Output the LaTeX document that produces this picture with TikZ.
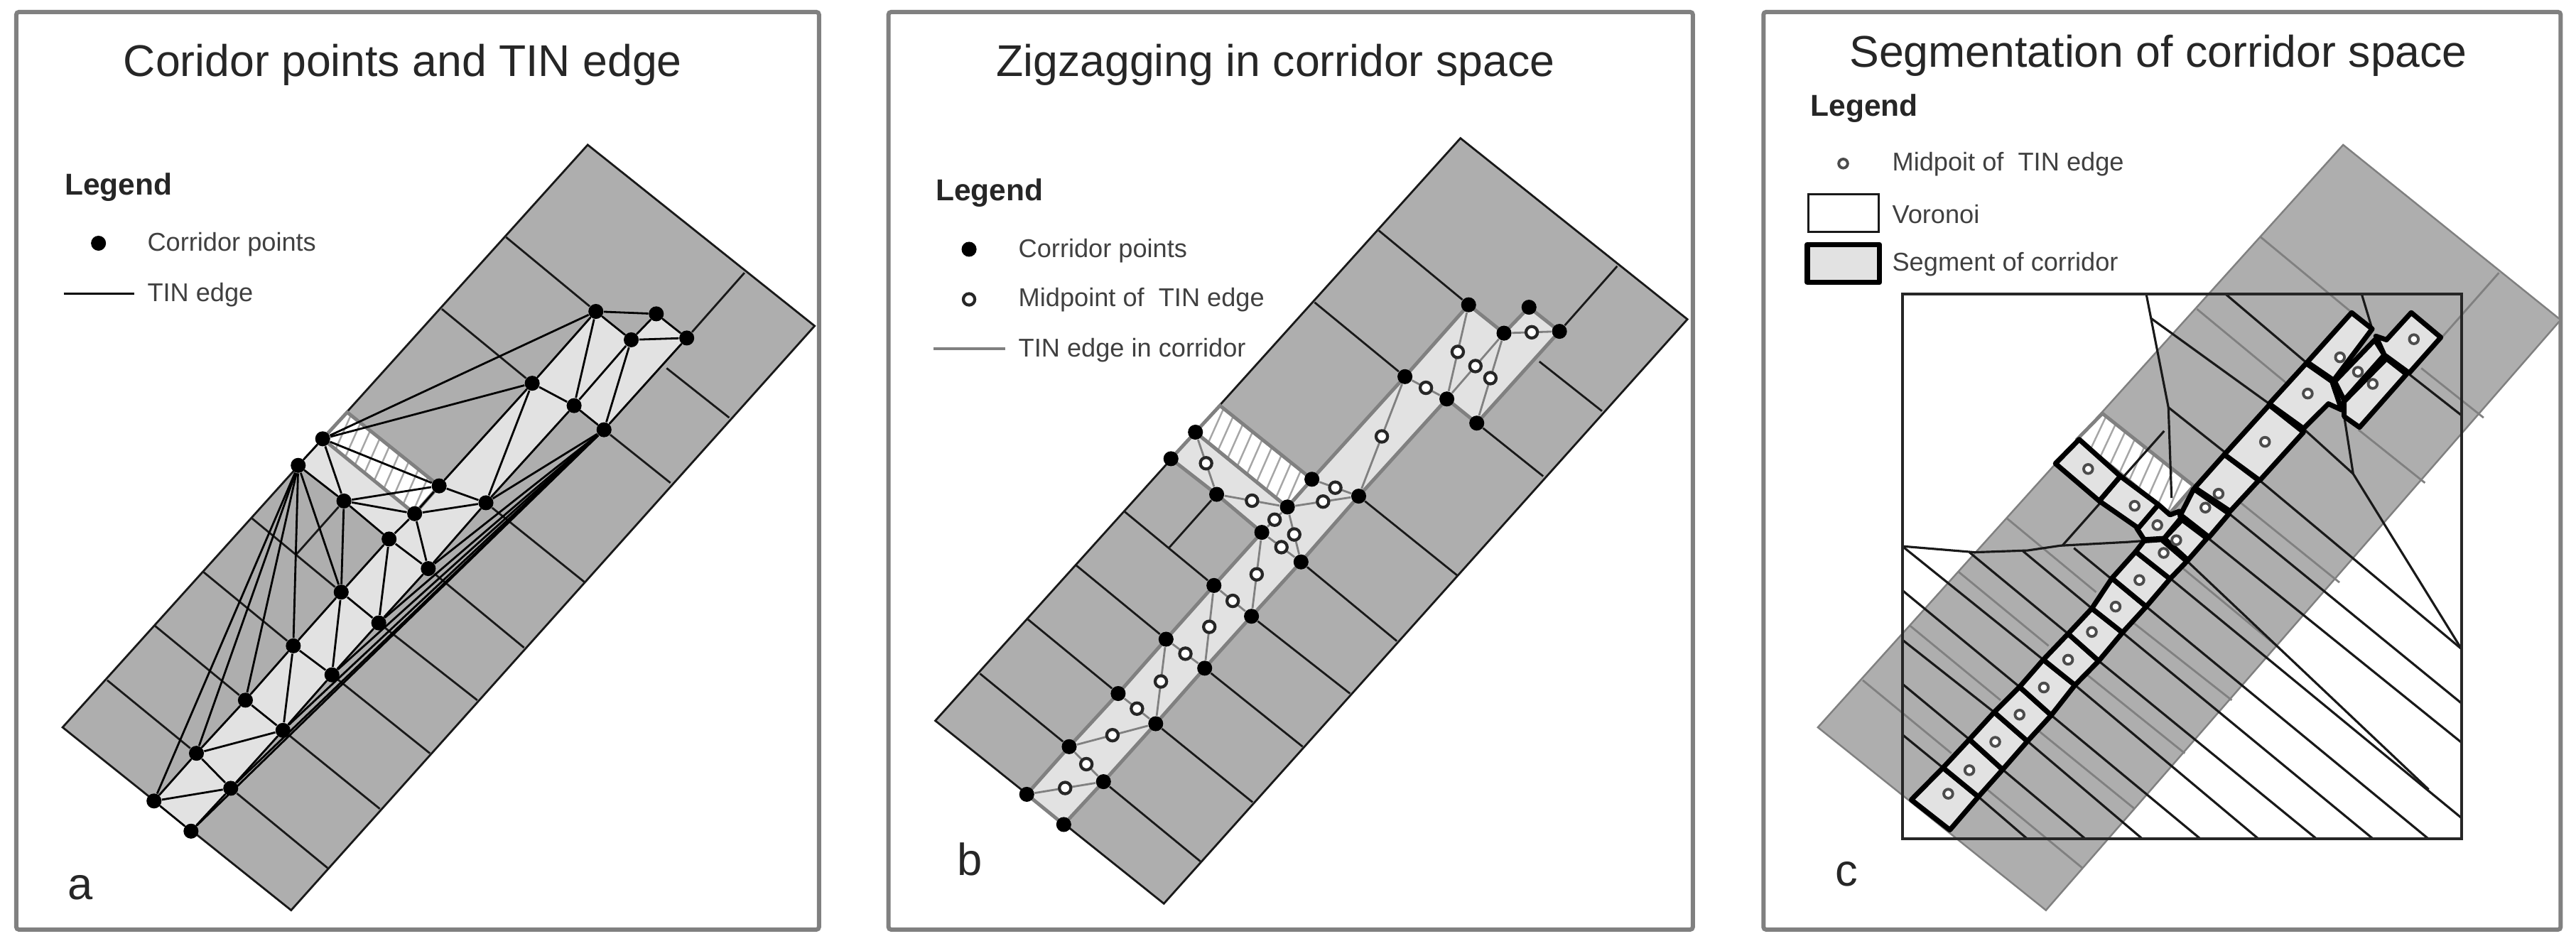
\documentclass[tikz,border=0pt]{standalone}
\usepackage{fontspec}
\setmainfont{Liberation Sans}
\usetikzlibrary{backgrounds,calc}

\definecolor{bandgray}{HTML}{AEAEAE}
\definecolor{corrlight}{HTML}{E2E2E2}
\definecolor{wallgray}{HTML}{808080}

\tikzset{
    panelab/.style={x=0.007653cm,y=-0.008496cm},
    panelc/.style={x=0.007436cm,y=-0.008496cm},
    panelframe/.style={draw=wallgray,line width=1.7pt,rounded corners=1pt},
    paneltitle/.style={font=\fontsize{17.8}{20}\selectfont,text=black!85,inner sep=0pt},
    legendhead/.style={anchor=west,font=\fontsize{12.1}{14}\selectfont\bfseries,text=black!85,inner sep=0pt},
    legendtext/.style={anchor=west,font=\fontsize{10.3}{12}\selectfont,text=black!75,inner sep=0pt},
    panelletter/.style={font=\fontsize{18}{20}\selectfont,text=black!85,inner sep=0pt},
    cpoint/.style={circle,fill=black,inner sep=0pt,minimum size=6pt},
    midpt/.style={circle,draw=black!85,fill=white,line width=1.2pt,inner sep=0pt,minimum size=4.6pt},
    midptc/.style={circle,draw=black!70,fill=white,line width=1.1pt,inner sep=0pt,minimum size=3.6pt},
    crossline/.style={draw=black!90,line width=0.8pt},
    tinblack/.style={draw=black,line width=0.8pt},
    tingray/.style={draw=wallgray,line width=0.8pt},
    voronoi/.style={draw=black!90,line width=0.9pt},
    segcell/.style={draw=black,fill=corrlight,line width=2pt,line join=round},
}

% corridor points, as they lie in panel a
\newcommand{\corridorpoints}{%
    \foreach \n/\x/\y in {1/283/1327,2/351/1377,3/361/1248,4/424/1306,5/451/1160,6/520/1210,
        7/539/1070,8/610/1118,9/627/981,10/696/1032,11/715/893,12/787/942,13/632/830,14/762/851,
        15/893/833,16/807/805,17/548/771,18/593/727,19/978/635,20/1055/672,21/1110/712,
        22/1095/516,23/1160/563,24/1206/520,25/1262/560}
        {\node[cpoint] (p\n) at (\x,\y) {};}%
}

% striped block, needs (h1) to (h4)
\newcommand{\hatchblock}{%
    \fill[white] (h1) -- (h2) -- (h3) -- (h4) -- cycle;
    \foreach \u/\v in {0.14/0.04,0.245/0.145,0.35/0.25,0.455/0.355,0.56/0.46,0.665/0.565,0.77/0.67,0.875/0.775,0.98/0.88}
        {\draw[wallgray!70,line width=0.7pt] ($(h1)!\u!(h4)$) -- ($(h2)!\v!(h3)$);}
    \draw[wallgray,line width=1.4pt] (h1) -- (h2) -- (h3) -- (h4) -- cycle;
}

% band, cross lines, corridor floor and striped block
\newcommand{\corridorband}[1]{%
    \fill[bandgray] (1080,240) -- (1497,540) -- (535,1508) -- (115,1205) -- cycle;
    \draw[crossline] (1080,240) -- (1497,540) -- (535,1508) -- (115,1205) -- cycle;
    \foreach \n/\x/\y in {3/197/1127,5/285/1037,7/373/947,9/462/858,19/812/512,22/930/393,25/1368/452,
        4/602/1438,6/698/1340,8/790/1248,10/877/1160,12/963/1073,15/1075/965,21/1232/800}
        {\coordinate (e\n) at (\x,\y); \draw[crossline] (e\n) -- (p\n);}
    \coordinate (w1) at (1225,610);
    \coordinate (w2) at (1340,692);
    \coordinate (w3) at (545,918);
    \draw[crossline] (w1) -- (w2);
    \draw[crossline] (w3) -- (p13);
    \draw[#1] (p1.center) -- (p3.center) -- (p5.center) -- (p7.center) -- (p9.center) -- (p11.center)
        -- (p13.center) -- (p17.center) -- (p18.center) -- (p14.center) -- (p16.center) -- (p19.center)
        -- (p22.center) -- (p23.center) -- (p24.center) -- (p25.center) -- (p21.center) -- (p20.center)
        -- (p15.center) -- (p12.center) -- (p10.center) -- (p8.center) -- (p6.center) -- (p4.center)
        -- (p2.center) -- cycle;
    \coordinate (h1) at (p18.center);
    \coordinate (h2) at (638,683);
    \coordinate (h3) at (p16.center);
    \coordinate (h4) at (p14.center);
    \hatchblock
}

\begin{document}
\begin{tikzpicture}
\useasboundingbox (0,0) rectangle (36.26,13.32);

% panel a
\begin{scope}[shift={(0,13.32)},panelab]
\draw[panelframe] (30,20) rectangle (1505,1540);
\node[paneltitle] (titlea) at (740,108) {Coridor points and TIN edge};
\node[legendhead] (legenda) at (118,310) {Legend};
\node[cpoint] (dota) at (181,403) {};
\node[legendtext] (dottexta) at (270,405) {Corridor points};
\draw[tinblack] (117,487) -- (247,487);
\node[legendtext] (tintexta) at (270,489) {TIN edge};
\node[panelletter] (lettera) at (148,1470) {a};
\corridorpoints
\begin{scope}[on background layer]
\corridorband{fill=corrlight}
\foreach \u/\v in {1/2,1/3,1/4,2/4,3/4,3/5,3/6,4/6,5/6,5/7,6/7,6/8,7/8,7/9,8/9,8/10,9/10,9/11,10/11,
    10/12,11/12,11/13,11/14,12/14,12/15,13/14,13/16,13/17,13/18,13/9,14/15,14/16,15/16,15/19,15/20,
    16/18,16/19,17/18,17/1,17/3,17/5,17/7,17/9,18/19,18/22,19/20,19/22,20/21,20/22,20/23,21/23,21/25,
    22/23,22/24,23/24,23/25,24/25,21/15,21/12,21/10,21/8,21/6,21/4,21/2}
    {\draw[tinblack] (p\u) -- (p\v);}
\end{scope}
\end{scope}

% panel b
\begin{scope}[shift={(12.30,13.32)},panelab]
\draw[panelframe] (27,20) rectangle (1505,1540);
\node[paneltitle] (titleb) at (738,108) {Zigzagging in corridor space};
\node[legendhead] (legendb) at (113,320) {Legend};
\node[cpoint] (dotb) at (175,413) {};
\node[legendtext] (dottextb) at (265,415) {Corridor points};
\node[midpt] (midb) at (175,496) {};
\node[legendtext] (midtextb) at (265,497) {Midpoint of\ \ TIN edge};
\draw[tingray,line width=1.2pt] (110,578) -- (241,578);
\node[legendtext] (tintextb) at (265,580) {TIN edge in corridor};
\node[panelletter] (letterb) at (176,1423) {b};
\begin{scope}[shift={(-2,-11)}]
\corridorpoints
\begin{scope}[on background layer]
\corridorband{fill=corrlight,draw=wallgray,line width=1.4pt}
\foreach \u/\v in {1/4,3/4,3/6,5/6,7/6,7/8,9/8,9/10,11/10,11/12,14/12,14/11,13/14,18/13,14/15,16/15,
    19/15,19/20,22/20,23/20,23/21,23/25}
    {\draw[tingray] (p\u) -- (p\v);}
\end{scope}
\foreach \u/\v in {1/4,3/4,3/6,5/6,7/6,7/8,9/8,9/10,11/10,11/12,14/12,14/11,13/14,18/13,14/15,16/15,
    19/15,19/20,22/20,23/20,23/21,23/25}
    {\node[midpt] (m\u-\v) at ($(p\u)!0.5!(p\v)$) {};}
\end{scope}
\end{scope}

% panel c
\begin{scope}[shift={(24.60,13.32)},panelc]
\draw[panelframe] (30,20) rectangle (1540,1540);
\node[paneltitle] (titlec) at (778,92) {Segmentation of corridor space};
\node[legendhead] (legendc) at (118,180) {Legend};
\node[midptc] (midc) at (181,271) {};
\node[legendtext] (midtextc) at (273,272) {Midpoit of\ \ TIN edge};
\draw[voronoi] (115,322) rectangle (248,384);
\node[legendtext] (vortextc) at (273,355) {Voronoi};
\draw[segcell] (113,405) rectangle (250,468);
\node[legendtext] (segtextc) at (273,438) {Segment of corridor};
\node[panelletter] (letterc) at (188,1448) {c};
% band
\fill[bandgray] (1128,240) -- (1540,530) -- (565,1508) -- (133,1205) -- cycle;
\draw[wallgray,line width=0.7pt] (1128,240) -- (1540,530) -- (565,1508) -- (133,1205) -- cycle;
\foreach \a/\b/\c/\d in {218/1127/386/1248,308/1037/479/1160,399/947/570/1070,490/858/660/981,
    851/512/1021/635,972/393/1142/516,1314/560/1423/452,451/1306/634/1438,550/1210/733/1340,
    643/1118/828/1248,731/1032/917/1160,825/942/1006/1073,934/833/1121/965,1157/712/1283/800,
    1276/610/1394/692}
    {\draw[wallgray,line width=0.8pt] (\a,\b) -- (\c,\d);}
\coordinate (h1) at (625,727);
\coordinate (h2) at (672,685);
\coordinate (h3) at (845,805);
\coordinate (h4) at (799,851);
\hatchblock
% voronoi lines
\foreach \vseg in {{(755,487) -- (797,675) -- (803,825)},{(789,714) -- (596,904)},{(797,675) -- (905,750)},
    {(905,487) -- (1060,602)},{(765,528) -- (988,669)},{(1163,487) -- (1183,545)},{(1250,618) -- (1352,688)},
    {(1130,690) -- (1147,785) -- (1352,1075)},{(1055,712) -- (1147,785)},
    {(293,905) -- (430,915) -- (530,912) -- (592,904) -- (720,898) -- (751,896)},
    {(560,1093) -- (293,905)},{(515,1138) -- (293,978)},{(467,1180) -- (293,1060)},{(420,1225) -- (293,1133)},
    {(370,1272) -- (293,1217)},{(607,1050) -- (420,915)},{(652,1008) -- (520,912)},{(686,957) -- (618,908)},
    {(437,1320) -- (530,1390)},{(483,1275) -- (640,1390)},{(530,1228) -- (748,1390)},{(575,1185) -- (858,1390)},
    {(620,1135) -- (968,1390)},{(665,1095) -- (1078,1390)},{(710,1048) -- (1185,1390)},{(755,1005) -- (1290,1390)},
    {(800,958) -- (1352,1355)},{(833,930) -- (1290,1308)},{(870,890) -- (1352,1230)},{(912,851) -- (1352,1165)},
    {(970,796) -- (1352,1075)}}
    {\draw[voronoi] \vseg;}
\draw[draw=black!85,line width=1.1pt] (293,487) rectangle (1352,1390);
% segments
\foreach \cell in {{(310,1325) -- (370,1272) -- (437,1320) -- (383,1375)},
    {(370,1272) -- (420,1225) -- (483,1275) -- (437,1320)},
    {(420,1225) -- (467,1180) -- (530,1228) -- (483,1275)},
    {(467,1180) -- (515,1138) -- (575,1185) -- (530,1228)},
    {(515,1138) -- (560,1093) -- (620,1135) -- (575,1185)},
    {(560,1093) -- (607,1050) -- (665,1095) -- (620,1135)},
    {(607,1050) -- (652,1008) -- (710,1048) -- (665,1095)},
    {(652,1008) -- (690,958) -- (755,1005) -- (710,1048)},
    {(690,958) -- (735,914) -- (800,959) -- (755,1005)},
    {(751,896) -- (784,894) -- (832,930) -- (800,959) -- (735,914)},
    {(823,861) -- (870,892) -- (834,928) -- (789,892)},
    {(778,836) -- (800,853) -- (818,847) -- (820,859) -- (789,892) -- (751,894) -- (737,875)},
    {(706,789) -- (778,836) -- (740,875) -- (666,830)},
    {(628,728) -- (706,789) -- (666,830) -- (583,768)},
    {(845,810) -- (912,851) -- (874,890) -- (820,853)},
    {(903,753) -- (968,796) -- (914,847) -- (847,808)},
    {(988,671) -- (1053,716) -- (970,796) -- (903,753)},
    {(1058,602) -- (1107,632) -- (1125,679) -- (1100,669) -- (1053,710) -- (988,669)},
    {(1144,518) -- (1183,545) -- (1110,630) -- (1060,600)},
    {(1188,563) -- (1206,588) -- (1130,663) -- (1112,632)},
    {(1210,594) -- (1248,620) -- (1159,708) -- (1130,690) -- (1130,665)},
    {(1257,518) -- (1313,559) -- (1253,618) -- (1206,588) -- (1190,557) -- (1210,563)}}
    {\draw[segcell] \cell -- cycle;}
\foreach \n/\x/\y in {1/380/1315,2/420/1276,3/469/1229,4/515/1184,5/561/1139,6/607/1093,7/652/1047,
    8/697/1005,9/742/961,10/788/916,11/812/895,12/776/870,13/733/838,14/645/777,15/867/841,16/892/818,
    17/980/732,18/1061/652,19/1122/592,20/1156/616,21/1184/636,22/1262/562}
    {\node[midptc] (mc\n) at (\x,\y) {};}
\end{scope}
\end{tikzpicture}
\end{document}
